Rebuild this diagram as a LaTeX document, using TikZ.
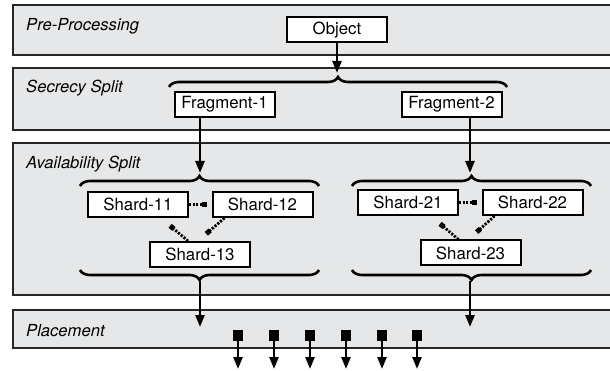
\documentclass[tikz,border=0pt]{standalone}
\usepackage{fontspec}
\setmainfont{TeX Gyre Heros}
\usepackage{tikz}
\usetikzlibrary{arrows.meta,decorations.pathreplacing,calc}
\definecolor{panelgray}{RGB}{230,231,232}

\tikzset{
  panel/.style={draw=black!85, line width=1.2pt, fill=panelgray},
  stage/.style={anchor=west, inner sep=0pt, font=\fontsize{16.6}{19}\selectfont\itshape},
  box/.style={draw, line width=2pt, fill=white, minimum width=100pt, minimum height=25pt, inner sep=0pt, font=\fontsize{16.8}{19}\selectfont},
  arr/.style={line width=2.5pt, -{Triangle[length=12pt,width=9pt]}},
  grp/.style={line width=2.6pt, decorate, decoration={brace, amplitude=10pt}},
  link/.style={line width=2.8pt, dash pattern=on 2.2pt off 1.4pt, -{Square[length=5pt,width=5pt]}},
  blk/.style={fill=black, minimum width=10pt, minimum height=11pt, inner sep=0pt}
}

\begin{document}
\begin{tikzpicture}[x=1pt, y=-1pt]
\useasboundingbox (0,0) rectangle (610,371);

% the four stages
\draw[panel] (13,5) rectangle (616,55);
\draw[panel] (13,68) rectangle (616,130);
\draw[panel] (13,143) rectangle (616,295);
\draw[panel] (13,310) rectangle (616,348);
\node[stage] (pre) at (26,26) {Pre-Processing};
\node[stage] (secr) at (26,88) {Secrecy Split};
\node[stage] (avail) at (26,164) {Availability Split};
\node[stage] (place) at (26,331) {Placement};

% object and fragments
\node[box] (obj) at (337,30) {Object};
\node[box] (frag1) at (224.5,104.5) {Fragment-1};
\node[box] (frag2) at (451.5,104.5) {Fragment-2};
\draw[grp] (169,87) -- (507,87);
\coordinate (secrtip) at (337,77);
\draw[arr, shorten >=4pt] (obj.south) -- (secrtip);

% shards
\node[box] (sh11) at (138,204.5) {Shard-11};
\node[box] (sh12) at (262.5,204.5) {Shard-12};
\node[box] (sh13) at (200,254.5) {Shard-13};
\node[box] (sh21) at (408,202.5) {Shard-21};
\node[box] (sh22) at (532.5,202.5) {Shard-22};
\node[box] (sh23) at (470.5,253) {Shard-23};

\draw[grp] (80,186) -- (319,186);
\draw[grp] (352,186) -- (591,186);
\coordinate (avtip1) at (200,177);
\coordinate (avtip2) at (470,177);
\draw[arr, shorten >=4pt] (frag1.south -| avtip1) -- (avtip1);
\draw[arr, shorten >=4pt] (frag2.south -| avtip2) -- (avtip2);

\draw[link, shorten >=4.5pt] (sh11.east) -- (sh12.west);
\draw[link, shorten >=12pt] ($(sh13.north)+(-12,0)$) -- ($(sh11.south)+(23,0)$);
\draw[link, shorten >=11pt] ($(sh12.south)+(-38,0)$) -- ($(sh13.north)+(-2,0)$);
\draw[link, shorten >=4.5pt] (sh21.east) -- (sh22.west);
\draw[link, shorten >=12pt] ($(sh23.north)+(-12,0)$) -- ($(sh21.south)+(23,0)$);
\draw[link, shorten >=11pt] ($(sh22.south)+(-38,0)$) -- ($(sh23.north)+(-2,0)$);

\draw[grp] (319,270) -- (80,270);
\draw[grp] (591,270) -- (352,270);
\coordinate (bot1) at (200,281);
\coordinate (bot2) at (470,281);
\coordinate (in1) at (200,327);
\coordinate (in2) at (470,327);
\draw[arr] (bot1) -- (in1);
\draw[arr] (bot2) -- (in2);

% placement
\node[blk] (b1) at (238,335.5) {};
\node[blk] (b2) at (274,335.5) {};
\node[blk] (b3) at (310,335.5) {};
\node[blk] (b4) at (346,335.5) {};
\node[blk] (b5) at (382,335.5) {};
\node[blk] (b6) at (417,335.5) {};
\coordinate (o1) at (238,369);
\coordinate (o2) at (274,369);
\coordinate (o3) at (310,369);
\coordinate (o4) at (346,369);
\coordinate (o5) at (382,369);
\coordinate (o6) at (417,369);
\draw[arr] (b1.south) -- (o1);
\draw[arr] (b2.south) -- (o2);
\draw[arr] (b3.south) -- (o3);
\draw[arr] (b4.south) -- (o4);
\draw[arr] (b5.south) -- (o5);
\draw[arr] (b6.south) -- (o6);
\end{tikzpicture}
\end{document}
